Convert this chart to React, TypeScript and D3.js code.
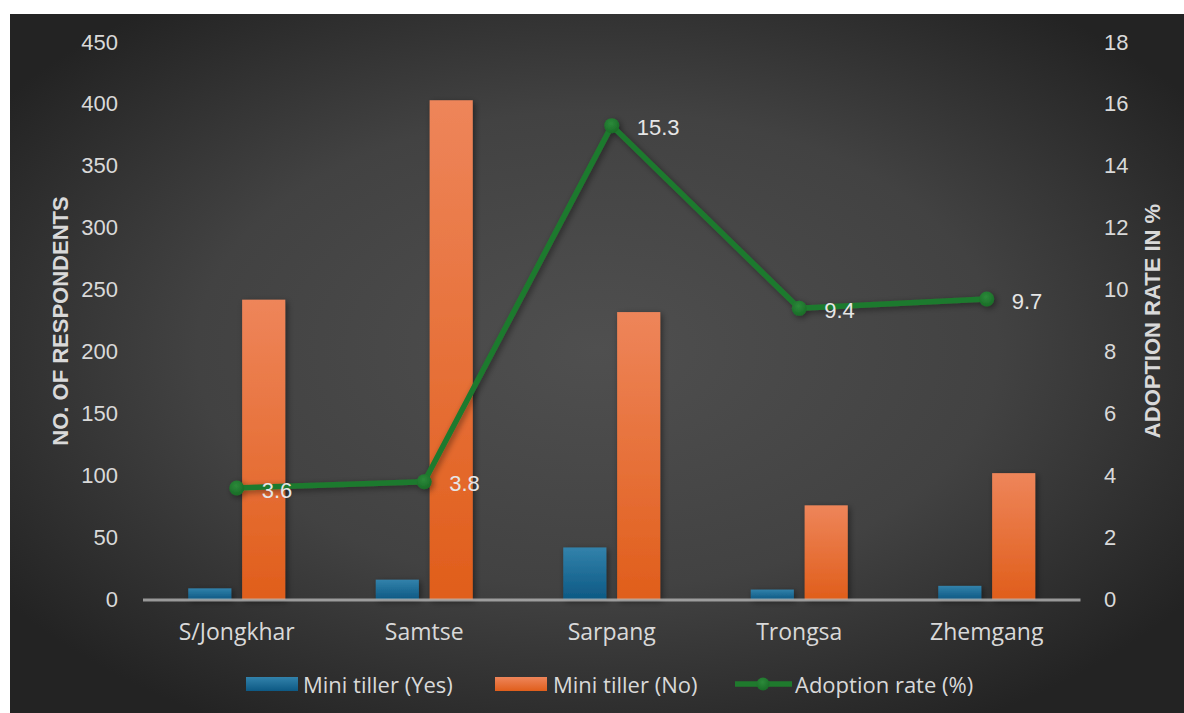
import React from "react";
import * as d3 from "d3";

const categories = ["S/Jongkhar", "Samtse", "Sarpang", "Trongsa", "Zhemgang"];
const tillerYes = [9, 16, 42, 8, 11];
const tillerNo = [242, 403, 232, 76, 102];
const adoptionRate = [3.6, 3.8, 15.3, 9.4, 9.7];
const leftTicks = [0, 50, 100, 150, 200, 250, 300, 350, 400, 450];
const rightTicks = [0, 2, 4, 6, 8, 10, 12, 14, 16, 18];
const seriesNames = ["Mini tiller (Yes)", "Mini tiller (No)", "Adoption rate (%)"];

const W = 1184;
const H = 713;
const tickFont = "'Liberation Sans', Arial, sans-serif";
const catFont = "'Open Sans', 'Noto Sans', sans-serif";

export default function App() {
  const x = d3.scaleBand<string>().domain(categories).range([143, 1080.5]);
  const xSub = d3.scaleBand<string>().domain(["yes", "no"]).range([-48.5, 48.5]).paddingInner(0.2);
  const yL = d3.scaleLinear().domain([0, 450]).range([599.5, 42]);
  const yR = d3.scaleLinear().domain([0, 18]).range([599.5, 42]);
  const cx = (c: string) => (x(c) as number) + x.bandwidth() / 2;

  const line = d3
    .line<number>()
    .x((_, i) => cx(categories[i]))
    .y((d) => yR(d));

  const bw = xSub.bandwidth();

  return (
    <svg
      width={W}
      height={H}
      style={{ position: "absolute", left: 0, top: 0, display: "block" }}
    >
      <defs>
        <radialGradient id="bg" cx="0.5" cy="0.48" r="0.62" fx="0.5" fy="0.48">
          <stop offset="0" stopColor="#4f4f4f" />
          <stop offset="0.55" stopColor="#424242" />
          <stop offset="1" stopColor="#232323" />
        </radialGradient>
        <linearGradient id="gOrange" x1="0" y1="0" x2="0" y2="1">
          <stop offset="0" stopColor="#ee855a" />
          <stop offset="1" stopColor="#e05e1b" />
        </linearGradient>
        <linearGradient id="gBlue" x1="0" y1="0" x2="0" y2="1">
          <stop offset="0" stopColor="#3282ab" />
          <stop offset="1" stopColor="#0d5984" />
        </linearGradient>
        <radialGradient id="gDot" cx="0.45" cy="0.35" r="0.6">
          <stop offset="0" stopColor="#2c8a3a" />
          <stop offset="1" stopColor="#1a6e28" />
        </radialGradient>
        <filter id="shadow" x="-30%" y="-10%" width="160%" height="130%">
          <feDropShadow dx="2" dy="2" stdDeviation="3" floodColor="#000" floodOpacity="0.45" />
        </filter>
      </defs>

      <rect x={0} y={0} width={W} height={H} fill="#ffffff" />
      <rect x={10} y={14} width={W - 10} height={H - 14} fill="url(#bg)" />

      {/* bars */}
      {categories.map((c, i) => (
        <g key={c} transform={`translate(${cx(c)},0)`} filter="url(#shadow)">
          <rect
            x={xSub("yes") as number}
            y={yL(tillerYes[i])}
            width={bw}
            height={yL(0) - yL(tillerYes[i])}
            fill="url(#gBlue)"
          />
          <rect
            x={xSub("no") as number}
            y={yL(tillerNo[i])}
            width={bw}
            height={yL(0) - yL(tillerNo[i])}
            fill="url(#gOrange)"
          />
        </g>
      ))}

      {/* category axis line */}
      <line x1={143} x2={1080.5} y1={600} y2={600} stroke="#bdbdbd" strokeOpacity={0.75} strokeWidth={3} />

      {/* left ticks */}
      {leftTicks.map((t) => (
        <text
          key={"l" + t}
          x={118}
          y={yL(t)}
          textAnchor="end"
          dominantBaseline="central"
          fontFamily={tickFont}
          fontSize={22}
          fill="#d9d9d9"
        >
          {t}
        </text>
      ))}
      {/* right ticks */}
      {rightTicks.map((t) => (
        <text
          key={"r" + t}
          x={1104}
          y={yR(t)}
          textAnchor="start"
          dominantBaseline="central"
          fontFamily={tickFont}
          fontSize={22}
          fill="#d9d9d9"
        >
          {t}
        </text>
      ))}

      {/* category labels */}
      {categories.map((c) => (
        <text
          key={"c" + c}
          x={cx(c)}
          y={631}
          textAnchor="middle"
          dominantBaseline="central"
          fontFamily={catFont}
          fontSize={23}
          fill="#d9d9d9"
        >
          {c}
        </text>
      ))}

      {/* axis titles */}
      <text
        transform="translate(60,321) rotate(-90)"
        textAnchor="middle"
        dominantBaseline="central"
        fontFamily={tickFont}
        fontWeight="bold"
        fontSize={22}
        fill="#d9d9d9"
      >
        NO. OF RESPONDENTS
      </text>
      <text
        transform="translate(1152,321) rotate(-90)"
        textAnchor="middle"
        dominantBaseline="central"
        fontFamily={tickFont}
        fontWeight="bold"
        fontSize={22}
        fill="#d9d9d9"
      >
        ADOPTION RATE IN %
      </text>

      {/* adoption rate line */}
      <g filter="url(#shadow)">
        <path d={line(adoptionRate) || ""} fill="none" stroke="#1f7a2d" strokeWidth={5.5} strokeLinejoin="round" />
        {adoptionRate.map((v, i) => (
          <circle key={"p" + i} cx={cx(categories[i])} cy={yR(v)} r={7.5} fill="url(#gDot)" />
        ))}
      </g>
      {adoptionRate.map((v, i) => (
        <text
          key={"v" + i}
          x={cx(categories[i]) + 25}
          y={yR(v) + 2}
          dominantBaseline="central"
          fontFamily={tickFont}
          fontSize={22}
          fill="#e6e6e6"
        >
          {v.toFixed(1)}
        </text>
      ))}

      {/* legend */}
      <g fontFamily={catFont} fontSize={22} fill="#d9d9d9">
        <rect x={246} y={677} width={52} height={14} fill="url(#gBlue)" />
        <text x={303} y={684} dominantBaseline="central">{seriesNames[0]}</text>
        <rect x={495} y={677} width={52} height={14} fill="url(#gOrange)" />
        <text x={553} y={684} dominantBaseline="central">{seriesNames[1]}</text>
        <line x1={735} x2={792} y1={684} y2={684} stroke="#1f7a2d" strokeWidth={5.5} />
        <circle cx={763} cy={684} r={6.5} fill="url(#gDot)" />
        <text x={795} y={684} dominantBaseline="central">{seriesNames[2]}</text>
      </g>
    </svg>
  );
}
